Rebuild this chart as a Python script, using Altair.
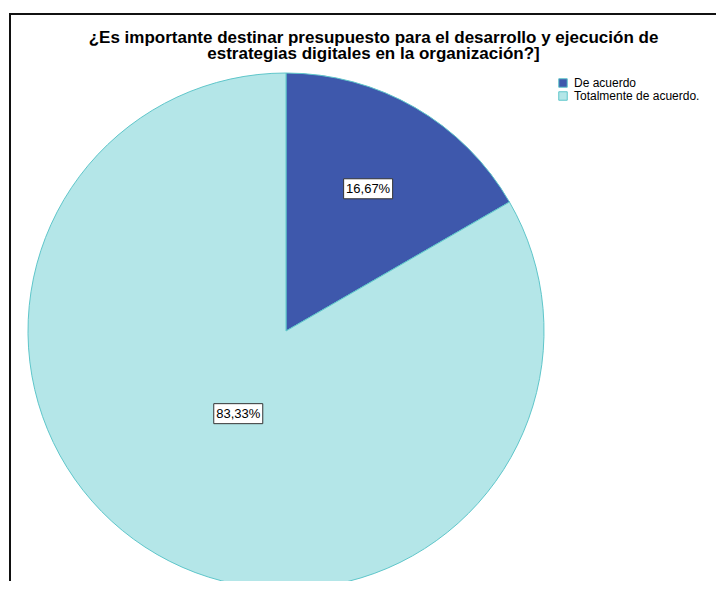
import math
import altair as alt
import pandas as pd

# ---- data ----
categorias = ["De acuerdo", "Totalmente de acuerdo."]
porcentajes = [16.67, 83.33]
etiquetas = ["16,67%", "83,33%"]
orden = [1, 2]

colores = ["#3e58ac", "#b4e6e8"]
borde = "#5fc6ca"

titulo = ["¿Es importante destinar presupuesto para el desarrollo y ejecución de",
          "estrategias digitales en la organización?]"]

df = pd.DataFrame({"categoria": categorias, "valor": porcentajes,
                   "etiqueta": etiquetas, "orden": orden})

# label anchor: mid-angle of each slice, at the sector centroid (with a floor)
total = sum(porcentajes)
acum = 0.0
lx, ly = [], []
for v in porcentajes:
    a0 = acum / total * 2 * math.pi
    acum += v
    a1 = acum / total * 2 * math.pi
    mid = (a0 + a1) / 2
    half = (a1 - a0) / 2
    r = max(2 * math.sin(half) / (3 * half), 0.37)
    lx.append(r * math.sin(mid))
    ly.append(r * math.cos(mid))
df["lx"] = lx
df["ly"] = ly

W, H = 707, 568
R = 258
CX, CY = 277, 318  # pie centre inside the plot area (px)

xs = alt.Scale(domain=[-CX / R, (W - CX) / R], zero=False, nice=False)
ys = alt.Scale(domain=[-(H - CY) / R, CY / R], zero=False, nice=False)

color = alt.Color("categoria:N", sort=categorias,
                  scale=alt.Scale(domain=categorias, range=colores),
                  legend=alt.Legend(title=None, orient="none", legendX=548, legendY=64,
                                    symbolType="square", symbolSize=72,
                                    symbolStrokeColor=borde, symbolStrokeWidth=1,
                                    labelFont="Liberation Sans", labelFontSize=12,
                                    labelColor="#000000", labelOffset=5,
                                    rowPadding=-4, padding=0))

pie = alt.Chart(df).transform_calculate(cx="0", cy="0").mark_arc(
    radius=R, stroke=borde, strokeWidth=1
).encode(
    theta=alt.Theta("valor:Q", stack=True),
    order=alt.Order("orden:Q"),
    color=color,
    x=alt.X("cx:Q", scale=xs, axis=None),
    y=alt.Y("cy:Q", scale=ys, axis=None),
)

cajas = alt.Chart(df).mark_point(
    shape="M-2.45,-1L2.45,-1L2.45,1L-2.45,1Z", size=400, filled=True,
    fill="white", stroke="#333333", strokeWidth=1, opacity=1
).encode(
    x=alt.X("lx:Q", scale=xs, axis=None),
    y=alt.Y("ly:Q", scale=ys, axis=None),
)

textos = alt.Chart(df).mark_text(
    font="Liberation Sans", fontSize=13, color="#000000", baseline="middle", align="center"
).encode(
    x=alt.X("lx:Q", scale=xs, axis=None),
    y=alt.Y("ly:Q", scale=ys, axis=None),
    text="etiqueta:N",
)

marco_izq = alt.Chart(df).mark_rule(color="#111111", strokeWidth=2).encode(
    x=alt.value(1), y=alt.value(0), y2=alt.value(H)
)
marco_sup = alt.Chart(df).mark_rule(color="#111111", strokeWidth=2).encode(
    x=alt.value(0), x2=alt.value(W), y=alt.value(1)
)

chart = alt.layer(pie, cajas, textos, marco_izq, marco_sup).properties(
    width=W, height=H,
    autosize=alt.AutoSizeParams(type="none"),
    padding={"left": 1, "top": 5, "right": 0, "bottom": 0},
    title=alt.TitleParams(text=titulo, font="Liberation Sans", fontSize=17,
                          fontWeight="bold", color="#000000", anchor="middle",
                          baseline="top", offset=-21, lineHeight=16, dx=11, dy=30),
).configure_view(stroke=None).configure(background="white")

chart.save("out.html", embed_options={"renderer": "svg", "actions": False})
